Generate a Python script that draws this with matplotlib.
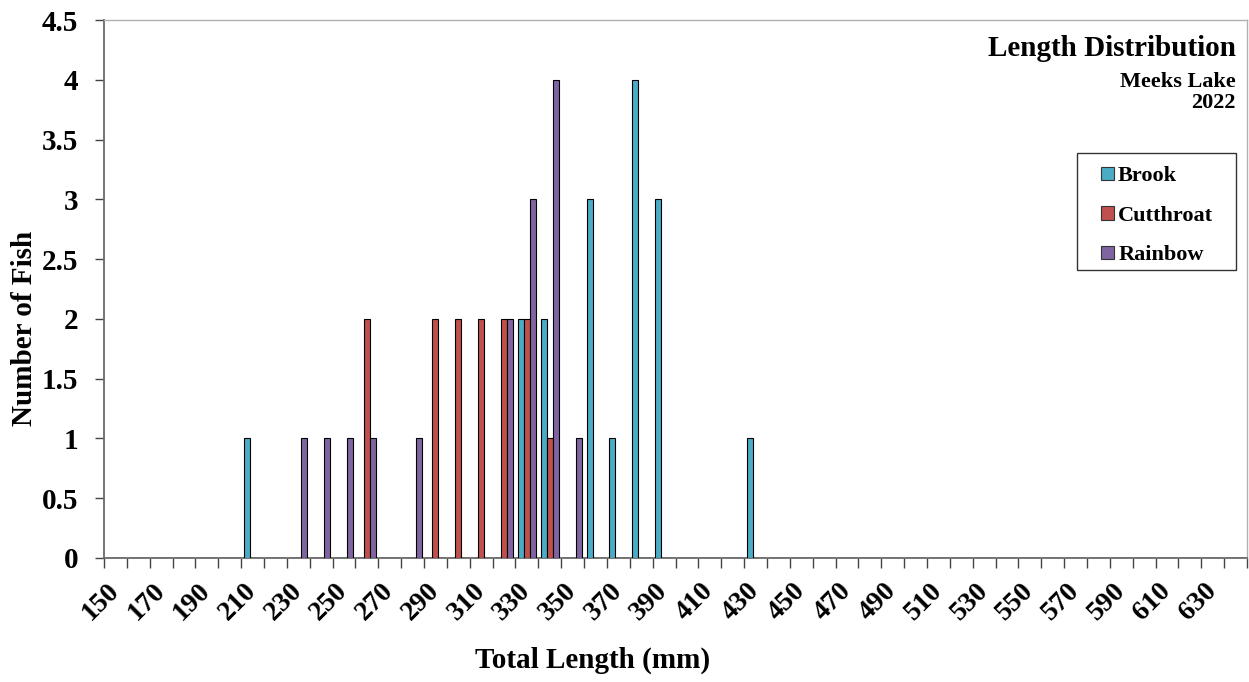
import numpy as np
import matplotlib.pyplot as plt
from matplotlib.patches import Patch, Rectangle

# length classes (mm), 150..640 by 10
lengths = list(range(150, 650, 10))

# counts per length class, only non-zero ones listed
brook = {210: 1, 330: 2, 340: 2, 360: 3, 370: 1, 380: 4, 390: 3, 430: 1}
cutthroat = {260: 2, 290: 2, 300: 2, 310: 2, 320: 2, 330: 2, 340: 1}
rainbow = {230: 1, 240: 1, 250: 1, 260: 1, 280: 1, 320: 2, 330: 3, 340: 4, 350: 1}

series_names = ['Brook', 'Cutthroat', 'Rainbow']
series_colors = ['#4BACC6', '#C0504D', '#8064A2']

plt.rcParams['font.family'] = ['Liberation Serif', 'DejaVu Serif']
plt.rcParams['font.weight'] = 'bold'

W, H = 1249, 682
fig = plt.figure(figsize=(W / 100, H / 100), dpi=100)
ax = fig.add_axes([104 / W, 1 - 558 / H, (1247 - 104) / W, (558 - 20) / H])

x = np.arange(len(lengths))
w = 0.26
for k, (data, col) in enumerate(zip([brook, cutthroat, rainbow], series_colors)):
    vals = [data.get(L, 0) for L in lengths]
    ax.bar(x + (k - 1) * w, vals, width=w, color=col, edgecolor='black', linewidth=0.8, zorder=3)

ax.set_xlim(-0.5, len(lengths) - 0.5)
ax.set_ylim(0, 4.5)
ax.set_yticks(np.arange(0, 4.51, 0.5))
ax.set_yticklabels(['0', '0.5', '1', '1.5', '2', '2.5', '3', '3.5', '4', '4.5'], fontsize=21, fontweight='bold')

# tick marks between categories, labels at every other category center
ax.set_xticks(np.arange(-0.5, len(lengths), 1), minor=True)
ax.set_xticks(x[::2])
ax.set_xticklabels([str(L) for L in lengths[::2]], rotation=45, ha='right', va='center',
                   rotation_mode='anchor', fontsize=20, fontweight='bold')
ax.tick_params(axis='x', which='major', length=0, pad=21)
ax.tick_params(axis='x', which='minor', length=7, width=1, color='#444444', direction='out')
ax.tick_params(axis='y', length=6.5, width=1, color='#444444', direction='out', pad=12)

for s in ['left', 'bottom']:
    ax.spines[s].set_color('#6a6a6a')
    ax.spines[s].set_linewidth(1.3)
for s in ['top', 'right']:
    ax.spines[s].set_color('#b0b0b0')
    ax.spines[s].set_linewidth(1.0)

fig.text(25 / W, 1 - 328 / H, 'Number of Fish', rotation=90, ha='center', va='center',
         fontsize=21, fontweight='bold')
fig.text(593 / W, 1 - 660 / H, 'Total Length (mm)', ha='center', va='center',
         fontsize=21, fontweight='bold')

fig.text(1236 / W, 1 - 48 / H, 'Length Distribution', ha='right', va='center',
         fontsize=21, fontweight='bold')
fig.text(1236 / W, 1 - 82 / H, 'Meeks Lake', ha='right', va='center',
         fontsize=16, fontweight='bold')
fig.text(1236 / W, 1 - 103 / H, '2022', ha='right', va='center',
         fontsize=16, fontweight='bold')

# legend frame drawn separately so the entries can sit inset like the original
fig.patches.append(Rectangle((1077 / W, 1 - 270 / H), 159 / W, 117 / H, transform=fig.transFigure,
                             facecolor='white', edgecolor='#333333', linewidth=1.0, zorder=4))
handles = [Patch(facecolor=c, edgecolor='#333333', linewidth=0.8) for c in series_colors]
leg = fig.legend(handles, series_names, loc='upper left',
                 bbox_to_anchor=(1097 / W, 1 - 162 / H),
                 prop={'size': 16, 'weight': 'bold'}, frameon=False,
                 handlelength=0.55, handleheight=0.55, handletextpad=0.2,
                 labelspacing=0.87, borderpad=0.2, borderaxespad=0)
leg.set_zorder(5)

fig.savefig('out.png', dpi=100)
